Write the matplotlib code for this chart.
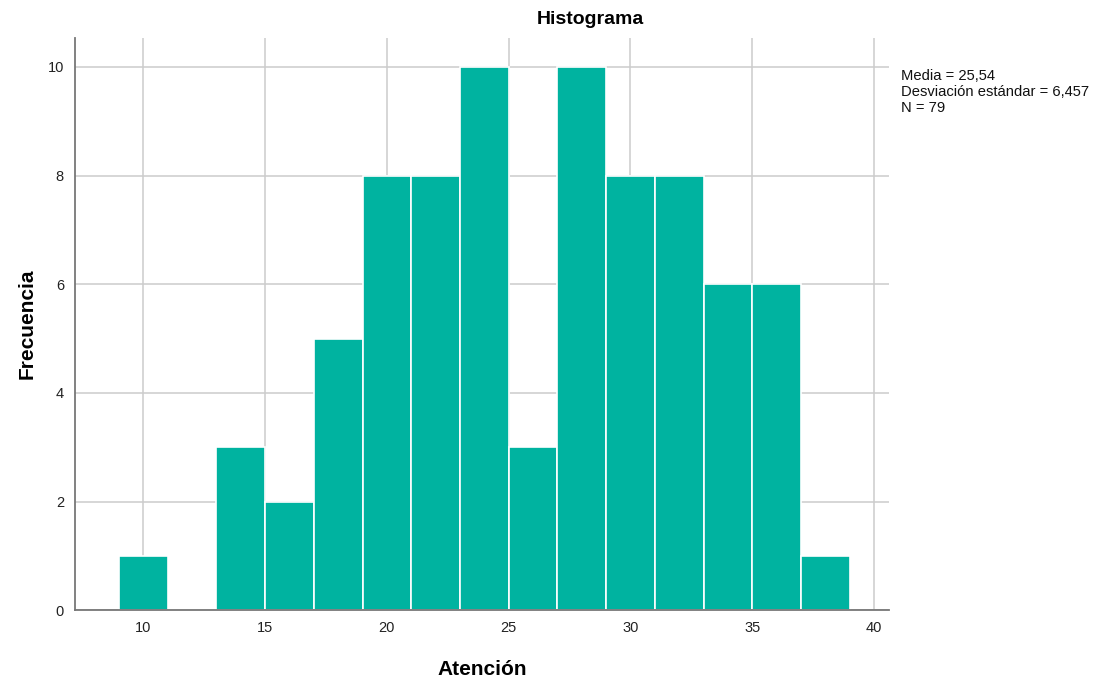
import numpy as np
import matplotlib.pyplot as plt

plt.rcParams['font.family'] = ['Liberation Sans', 'DejaVu Sans']

# bin edges (width 2) and counts
bin_left = [9, 11, 13, 15, 17, 19, 21, 23, 25, 27, 29, 31, 33, 35, 37]
counts = [1, 0, 3, 2, 5, 8, 8, 10, 3, 10, 8, 8, 6, 6, 1]
bin_width = 2
x_ticks = [10, 15, 20, 25, 30, 35, 40]
y_ticks = [0, 2, 4, 6, 8, 10]
stats_text = "Media = 25,54\nDesviación estándar = 6,457\nN = 79"

fig = plt.figure(figsize=(11.04, 6.81), dpi=100)
ax = fig.add_axes([0.068, 0.104, 0.737, 0.84])

ax.bar(bin_left, counts, width=bin_width, align='edge', color='#00B3A0',
       edgecolor='white', linewidth=1.2, zorder=2)

ax.set_xlim(7.2, 40.6)
ax.set_ylim(0, 10.53)
ax.set_xticks(x_ticks)
ax.set_yticks(y_ticks)
ax.grid(True, color='#cccccc', linewidth=1.1, zorder=0)
ax.set_axisbelow(True)
ax.tick_params(length=0, labelsize=10.5, colors='#222222', pad=8)
for s in ['top', 'right']:
    ax.spines[s].set_visible(False)
for s in ['left', 'bottom']:
    ax.spines[s].set_color('#777777')
    ax.spines[s].set_linewidth(1.3)

# title sits centred on the whole chart area, not on the axes
fig.text(590 / 1104, 1 - 20 / 681, 'Histograma', fontsize=14,
         fontweight='bold', ha='center', va='center')
ax.set_xlabel('Atención', fontsize=15, fontweight='bold', labelpad=18)
ax.set_ylabel('Frecuencia', fontsize=15, fontweight='bold', labelpad=8)

fig.text(0.816, 0.898, stats_text, fontsize=10.6, va='top', ha='left',
         linespacing=1.15, color='#111111')

fig.savefig('out.png', dpi=100)
